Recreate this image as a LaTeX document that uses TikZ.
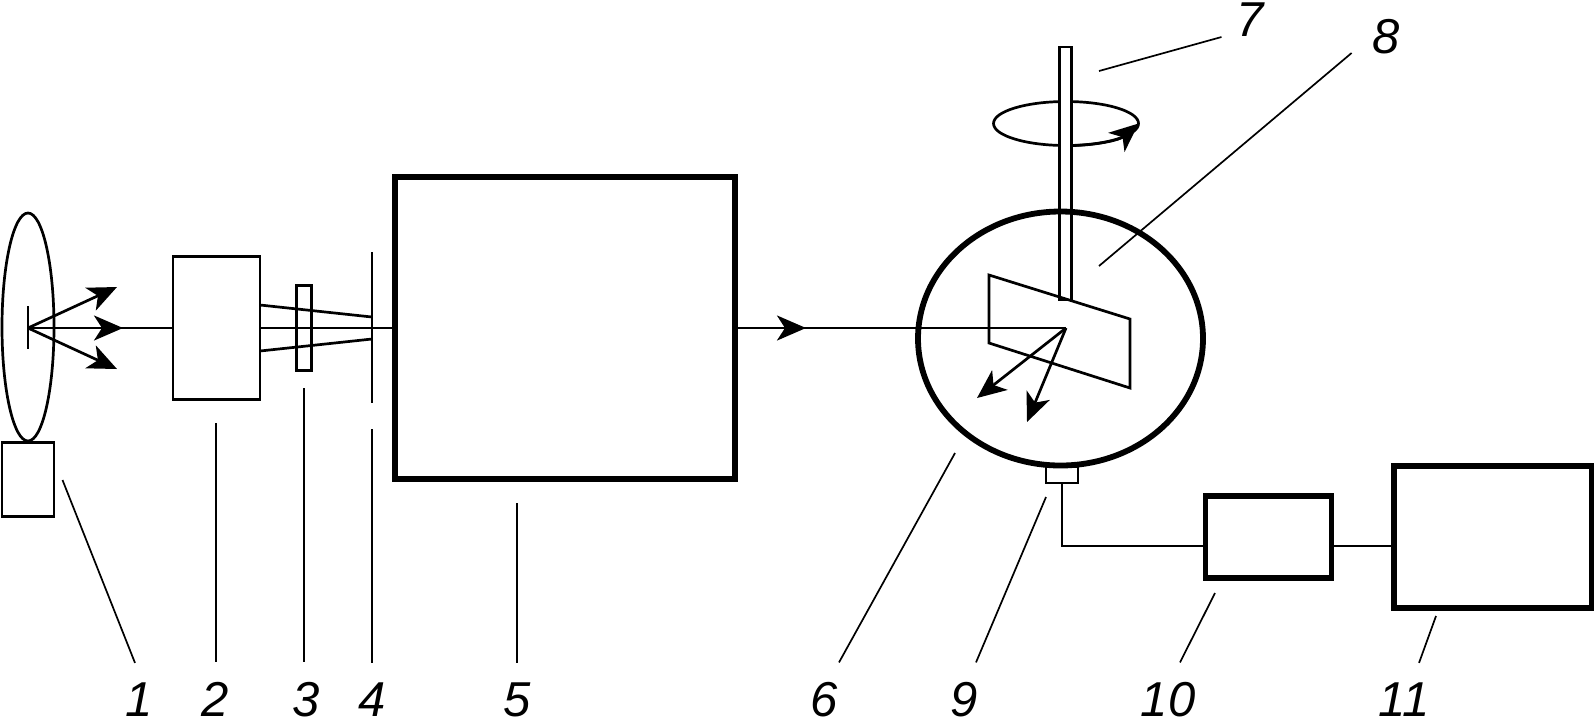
\documentclass[tikz,border=0pt]{standalone}
\usepackage{fontspec}
\setmainfont{Liberation Sans}
\usetikzlibrary{arrows.meta,positioning,shapes.geometric}
\tikzset{
    thinbox/.style={
        draw=black,
        fill=white,
        line width=1.35pt,
        inner sep=0pt,
        outer sep=0pt
    },
    thickbox/.style={
        thinbox,
        line width=2.9pt
    },
    thinring/.style={
        ellipse,
        draw=black,
        line width=1.35pt,
        inner sep=0pt,
        outer sep=0pt
    },
    thickring/.style={
        thinring,
        line width=2.9pt
    },
    rayline/.style={
        draw=black,
        line width=1.35pt
    },
    rayarrow/.style={
        -{Stealth[length=14.5pt,width=12.5pt,inset=4pt]},
        draw=black,
        line width=1.35pt
    },
    leaderline/.style={
        draw=black,
        line width=0.85pt
    },
    partlabel/.style={
        anchor=base,
        inner xsep=0pt,
        inner ysep=9.75pt,
        font=\fontsize{24.5}{28}\selectfont\itshape
    }
}
\begin{document}
\begin{tikzpicture}[x=0.5pt,y=-0.5pt]
        \useasboundingbox (0,0) rectangle (1594,720);

        \node[thinring,minimum width=26pt,minimum height=114pt] (lamp) at (28,327) {};
        \node[thinbox,minimum width=26pt,minimum height=37pt] (source) at (28,479.5) {};
        \node[thinbox,minimum width=43.5pt,minimum height=71.5pt] (optics) at (216.5,328) {};
        \node[thinbox,minimum width=7.5pt,minimum height=42.5pt] (filter) at (304,328) {};
        \node[thickbox,minimum width=170pt,minimum height=151pt] (mono) at (565,328) {};

        \coordinate (spark) at (28,328);
        \coordinate (sparktop) at (28,306);
        \coordinate (sparkbot) at (28,349);
        \coordinate (fluxup) at (117,287);
        \coordinate (fluxmid) at (123,328);
        \coordinate (fluxdown) at (117,369);
        \coordinate (slittop) at (372,252);
        \coordinate (slitbot) at (372,403);
        \coordinate (fanup) at (372,317);
        \coordinate (fandown) at (372,339);

        \draw[rayline] (sparktop) -- (sparkbot);
        \draw[rayline] (spark) -- (optics.west);
        \draw[rayarrow] (spark) -- (fluxup);
        \draw[rayarrow] (spark) -- (fluxmid);
        \draw[rayarrow] (spark) -- (fluxdown);
        \draw[rayline] (optics.east) -- (mono.west);
        \draw[rayline] ([yshift=11.5pt]optics.east) -- (fanup);
        \draw[rayline] ([yshift=-11.5pt]optics.east) -- (fandown);
        \draw[rayline] (slittop) -- (slitbot);

        \node[thinring,minimum width=72.5pt,minimum height=22pt] (spin) at (1066,123.5) {};
        \draw[rayarrow] (spin.south) .. controls (1090,146) and (1118,141) .. (spin.east);
        \node[thinbox,minimum width=6pt,minimum height=126.5pt] (rod) at (1065.5,173.5) {};
        \node[thinbox,minimum width=16pt,minimum height=8pt] (detector) at (1062,475) {};
        \node[thickring,minimum width=142.5pt,minimum height=127pt] (chamber) at (1060.5,338.5) {};
        \node[thickbox,minimum width=63pt,minimum height=41pt] (amplifier) at (1268.5,537) {};
        \node[thickbox,minimum width=98.75pt,minimum height=71pt] (recorder) at (1492.75,537) {};

        \coordinate (spot) at (1066,328);
        \coordinate (beamtip) at (806,328);
        \coordinate (scatterleft) at (977,398);
        \coordinate (scatterdown) at (1027,422);

        \draw[line width=1.35pt] (989,275) -- (1130,319) -- (1130,388) -- (989,343) -- cycle;
        \draw[rayline] (mono.east) -- (spot);
        \draw[rayarrow] (mono.east) -- (beamtip);
        \draw[rayarrow] (spot) -- (scatterleft);
        \draw[rayarrow] (spot) -- (scatterdown);
        \draw[rayline] (detector.south) |- ([yshift=-4.5pt]amplifier.west);
        \draw[rayline] ([yshift=-4.5pt]amplifier.east) -- ([yshift=-4.5pt]recorder.west);

        \node[partlabel] (label1) at (139,716.5) {1};
        \node[partlabel] (label2) at (215,716.5) {2};
        \node[partlabel] (label3) at (306,716.5) {3};
        \node[partlabel] (label4) at (372,716.5) {4};
        \node[partlabel] (label5) at (517,716.5) {5};
        \node[partlabel] (label6) at (824.5,716.5) {6};
        \node[partlabel] (label9) at (964,716.5) {9};
        \node[partlabel] (label10) at (1168,716.5) {10};
        \node[partlabel] (label11) at (1404,716.5) {11};
        \node[partlabel] (label7) at (1250,36) {7};
        \node[partlabel] (label8) at (1386,53) {8};

        \coordinate (tip1) at (62.5,480);
        \coordinate (tip2) at (216,423);
        \coordinate (tip3) at (304,388);
        \coordinate (tip4) at (372,429);
        \coordinate (tip5) at (517,503);
        \coordinate (tip6) at (955,453);
        \coordinate (tip7) at (1099,71);
        \coordinate (tip8) at (1099,266);
        \coordinate (tip9) at (1046,497);
        \coordinate (tip10) at (1215,593);
        \coordinate (tip11) at (1436,616);

        \draw[leaderline] (tip1) -- ([xshift=-2pt]label1.north);
        \draw[leaderline] (tip2) -- ([xshift=0.5pt]label2.north);
        \draw[leaderline] (tip3) -- ([xshift=-1pt]label3.north);
        \draw[leaderline] (tip4) -- (label4.north);
        \draw[leaderline] (tip5) -- (label5.north);
        \draw[leaderline] (tip6) -- ([xshift=7.25pt]label6.north);
        \draw[leaderline] (tip9) -- ([xshift=6pt]label9.north);
        \draw[leaderline] (tip10) -- ([xshift=6pt]label10.north);
        \draw[leaderline] (tip11) -- ([xshift=7.5pt]label11.north);
        \draw[leaderline] (tip7) -- ([xshift=-7.25pt,yshift=-0.5pt]label7.base west);
        \draw[leaderline] (tip8) -- ([xshift=-10.2pt]label8.base west);
    \end{tikzpicture}
\end{document}
